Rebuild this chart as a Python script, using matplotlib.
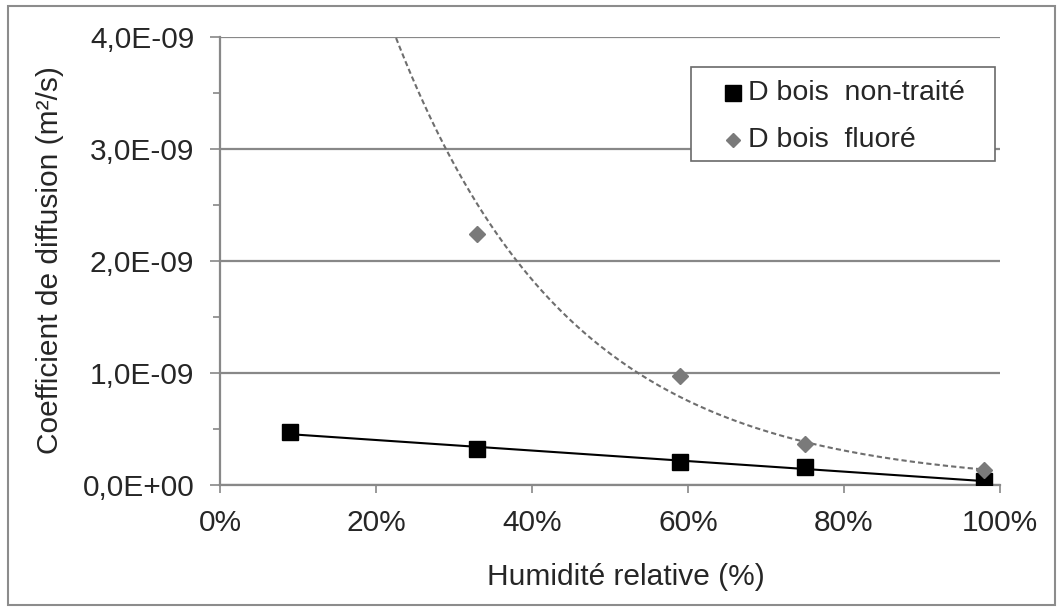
import numpy as np
import matplotlib
matplotlib.use("Agg")
import matplotlib.pyplot as plt
from matplotlib.patches import Rectangle
from matplotlib.ticker import MultipleLocator, FuncFormatter

plt.rcParams["font.family"] = ["Liberation Sans", "DejaVu Sans"]

# relative humidity (fraction) and diffusion coefficients (m2/s)
hr_non_traite = [0.09, 0.33, 0.59, 0.75, 0.98]
d_non_traite = [0.47e-9, 0.32e-9, 0.205e-9, 0.16e-9, 0.035e-9]
hr_fluore = [0.33, 0.59, 0.75, 0.98]
d_fluore = [2.24e-9, 0.97e-9, 0.37e-9, 0.13e-9]

labels = ["D bois  non-traité", "D bois  fluoré"]

txt = "#262626"
grid_c = "#888888"
fs = 21.5

fig = plt.figure(figsize=(10.6, 6.08), dpi=100)
ax = fig.add_axes([0.2075, 0.2023, 0.7359, 0.7368])

# trend lines (like the spreadsheet: linear and exponential fits)
a, b = np.polyfit(hr_non_traite, d_non_traite, 1)
xl = np.array([hr_non_traite[0], hr_non_traite[-1]])
ax.plot(xl, a * xl + b, color="black", lw=1.5, zorder=3)

k, c = np.polyfit(hr_fluore, np.log(d_fluore), 1)
xe = np.linspace(0.15, hr_fluore[-1], 200)
ax.plot(xe, np.exp(c + k * xe), color="#6e6e6e", lw=1.5, dashes=(2.5, 1.5), zorder=3)

ax.plot(hr_non_traite, d_non_traite, ls="none", marker="s", ms=12,
        color="black", zorder=4)
ax.plot(hr_fluore, d_fluore, ls="none", marker="D", ms=8,
        color="#7a7a7a", zorder=5)

ax.set_xlim(0, 1)
ax.set_ylim(0, 4e-9)
ax.xaxis.set_major_locator(MultipleLocator(0.2))
ax.yaxis.set_major_locator(MultipleLocator(1e-9))
ax.yaxis.set_minor_locator(MultipleLocator(0.5e-9))
ax.xaxis.set_major_formatter(FuncFormatter(lambda v, p: f"{v * 100:.0f}%"))
ax.yaxis.set_major_formatter(FuncFormatter(lambda v, p: f"{v:.1E}".replace(".", ",")))

ax.grid(True, axis="y", color=grid_c, lw=1.6)
ax.set_axisbelow(True)
for s in ["top", "right"]:
    ax.spines[s].set_visible(False)
for s in ["left", "bottom"]:
    ax.spines[s].set_color(grid_c)
    ax.spines[s].set_linewidth(1.6)

ax.tick_params(axis="both", which="major", colors=grid_c, labelcolor=txt,
               labelsize=fs, width=1.2)
ax.tick_params(axis="y", which="major", length=7, pad=11.5)
ax.tick_params(axis="y", which="minor", length=5, width=1.2, colors=grid_c)
ax.tick_params(axis="x", which="major", length=6, pad=11.5)

ax.set_xlabel("Humidité relative (%)", fontsize=fs, color=txt)
ax.set_ylabel("Coefficient de diffusion (m²/s)", fontsize=fs, color=txt)
ax.xaxis.set_label_coords(0.52, -0.205)
ax.xaxis.label.set_verticalalignment("center")
ax.yaxis.set_label_coords(-0.218, 0.502)
ax.yaxis.label.set_verticalalignment("center")

# legend box drawn by hand to match the spreadsheet layout
ax.add_patch(Rectangle((0.604, 0.723), 0.3896, 0.21, transform=ax.transAxes,
                       facecolor="white", edgecolor="#6a6a6a", lw=1.2, zorder=6,
                       clip_on=False))
leg_rows = [0.875, 0.770]
ax.plot(0.658, leg_rows[0], transform=ax.transAxes, marker="s", ms=11,
        color="black", zorder=7, clip_on=False)
ax.plot(0.658, leg_rows[1], transform=ax.transAxes, marker="D", ms=7,
        color="#7a7a7a", zorder=7, clip_on=False)
for lab, yy in zip(labels, leg_rows):
    ax.text(0.677, yy, lab, transform=ax.transAxes, fontsize=20.5, color=txt,
            va="center", ha="left", zorder=7)

fig.patches.append(Rectangle((0.008, 0.005), 0.987, 0.985, transform=fig.transFigure,
                             fill=False, edgecolor="#8c8c8c", lw=1.5))

fig.savefig("out.png", dpi=100)
